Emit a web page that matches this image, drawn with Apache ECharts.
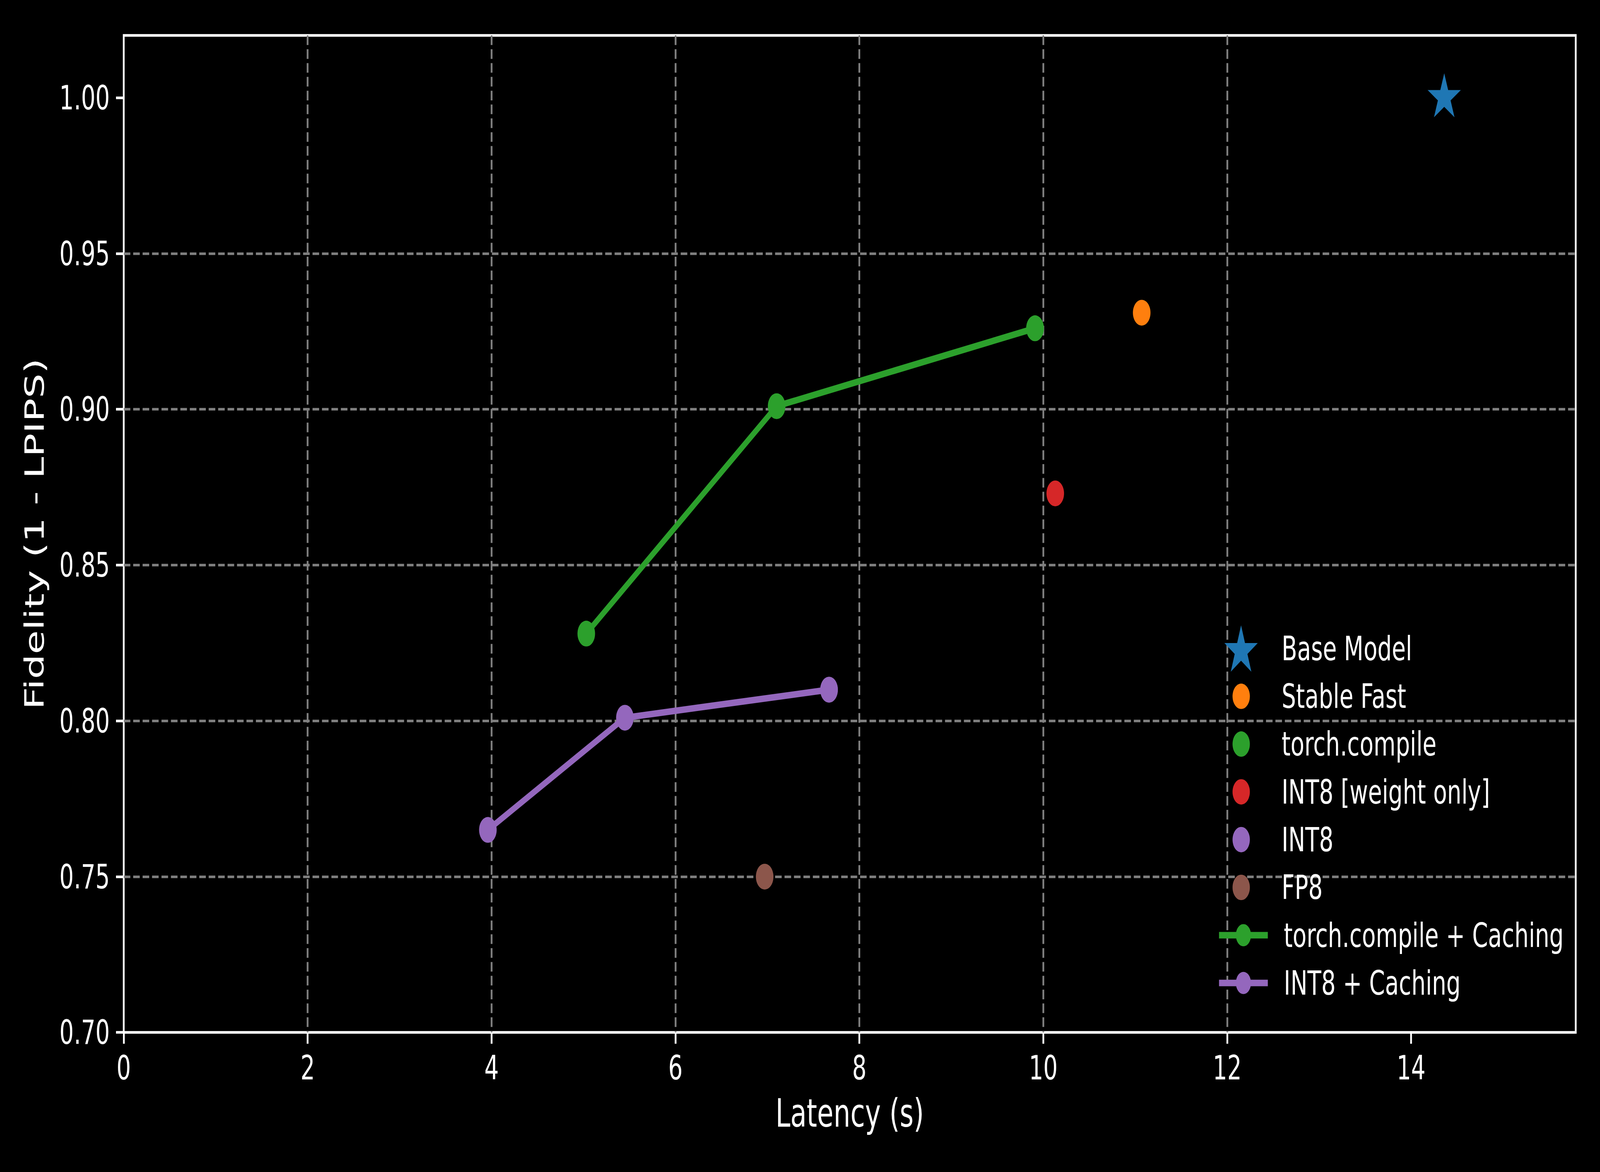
<!DOCTYPE html>
<html>
<head>
<meta charset="utf-8">
<script src="https://cdn.jsdelivr.net/npm/echarts@6/dist/echarts.min.js"></script>
<style>
html,body{margin:0;padding:0;background:#000;overflow:hidden;}
#chart{width:6000px;height:3000px;transform-origin:0 0;}
</style>
</head>
<body>
<div id="chart"></div>
<script>
// ---- data ----
const baseModel = [[14.36, 1.000]];
const stableFast = [[11.07, 0.931]];
const torchCompile = [[9.91, 0.926]];
const int8WeightOnly = [[10.13, 0.873]];
const int8 = [[7.67, 0.810]];
const fp8 = [[6.97, 0.750]];
const torchCompileCaching = [[5.03, 0.828], [7.10, 0.901], [9.91, 0.926]];
const int8Caching = [[3.96, 0.765], [5.45, 0.801], [7.67, 0.810]];

const xTicks = [0, 2, 4, 6, 8, 10, 12, 14];
const yTicks = [0.70, 0.75, 0.80, 0.85, 0.90, 0.95, 1.00];
const xRange = [0, 15.79];
const yRange = [0.70, 1.02];

const names = ['Base Model', 'Stable Fast', 'torch.compile', 'INT8 [weight only]', 'INT8', 'FP8',
  'torch.compile + Caching', 'INT8 + Caching'];
const colors = ['#1f77b4', '#ff7f0e', '#2ca02c', '#d62728', '#9467bd', '#8c564b'];

// fit the 6000x3000 drawing into whatever viewport the browser really has
const el = document.getElementById('chart');
const sx = (window.innerWidth || 6000) / 6000, sy = (window.innerHeight || 3000) / 3000;
el.style.transform = 'scale(' + sx + ',' + sy + ')';

const STAR = 'path://M0,-1000L224.5,-309L951.1,-309L363.3,118L587.8,809L0,382L-587.8,809L-363.3,118L-951.1,-309L-224.5,-309Z';
const FONT = 'DejaVu Sans';
const LW = 16.7;
const chart = echarts.init(el, null, {renderer: 'svg', width: 6000, height: 3000});

function scatter(name, data, color) {
  return {
    name: name, type: 'scatter', data: data, z: 2,
    symbol: 'circle', symbolSize: 66,
    itemStyle: {color: color, opacity: 1},
    emphasis: {disabled: true}
  };
}
function line(name, data, color) {
  return {
    name: name, type: 'line', data: data, z: 3,
    symbol: 'circle', symbolSize: 66, showSymbol: true,
    lineStyle: {color: color, width: LW},
    itemStyle: {color: color, opacity: 1},
    emphasis: {disabled: true}
  };
}

const legendText = (pad) => ({color: '#fff', fontSize: 85, fontFamily: FONT, padding: [0, 0, 0, pad]});
const gridLine = {color: '#808080', width: 6.7, type: [24.7, 10.7]};

const option = {
  backgroundColor: '#000',
  animation: false,
  textStyle: {fontFamily: FONT},
  grid: {
    left: 464, top: 90.6, right: 91, bottom: 357.3,
    show: true, borderColor: '#fff', borderWidth: 6.7, backgroundColor: 'transparent'
  },
  xAxis: {
    type: 'value', min: xRange[0], max: xRange[1], interval: 2,
    name: 'Latency (s)', nameLocation: 'middle', nameGap: 157,
    nameTextStyle: {color: '#fff', fontSize: 100, fontFamily: FONT, lineHeight: 100},
    axisLine: {show: false},
    axisTick: {show: true, inside: false, length: 29, customValues: xTicks, lineStyle: {color: '#fff', width: 6.7}},
    axisLabel: {color: '#fff', fontSize: 85, fontFamily: FONT, margin: 48, customValues: xTicks, lineHeight: 85,
      formatter: v => String(v)},
    splitLine: {show: true, showMinLine: false, showMaxLine: false, lineStyle: gridLine}
  },
  yAxis: {
    type: 'value', min: yRange[0], max: yRange[1], interval: 0.05,
    name: 'Fidelity (1 - LPIPS)', nameLocation: 'middle', nameGap: 284, nameRotate: 90,
    nameTextStyle: {color: '#fff', fontSize: 100, fontFamily: FONT, lineHeight: 100},
    axisLine: {show: false},
    axisTick: {show: true, inside: false, length: 29, customValues: yTicks, lineStyle: {color: '#fff', width: 6.7}},
    axisLabel: {color: '#fff', fontSize: 85, fontFamily: FONT, margin: 52, customValues: yTicks,
      formatter: v => Number(v).toFixed(2)},
    splitLine: {show: true, showMinLine: false, showMaxLine: false, lineStyle: gridLine}
  },
  legend: [
    {
      data: [names[0]], orient: 'vertical', left: 4591.5, top: 1600.5, padding: 0,
      itemWidth: 125, itemHeight: 119, selectedMode: false,
      textStyle: legendText(84.5)
    },
    {
      data: names.slice(1, 6), orient: 'vertical', left: 4622, top: 1739.8, padding: 0,
      itemWidth: 183, itemHeight: 65, itemGap: 37.3, selectedMode: false,
      textStyle: legendText(55)
    },
    {
      data: names.slice(6), orient: 'vertical', left: 4563, top: 2351.3, padding: 0,
      itemWidth: 183, itemHeight: 71, itemGap: 37.3, selectedMode: false,
      lineStyle: {width: LW},
      textStyle: legendText(55)
    }
  ],
  series: [
    {
      name: names[0], type: 'scatter', data: baseModel, z: 2,
      symbol: STAR, symbolSize: [124.6, 118.5], symbolKeepAspect: true, symbolOffset: [0, -6.3],
      itemStyle: {color: colors[0], opacity: 1}, emphasis: {disabled: true}
    },
    scatter(names[1], stableFast, colors[1]),
    scatter(names[2], torchCompile, colors[2]),
    scatter(names[3], int8WeightOnly, colors[3]),
    scatter(names[4], int8, colors[4]),
    scatter(names[5], fp8, colors[5]),
    line(names[6], torchCompileCaching, colors[2]),
    line(names[7], int8Caching, colors[4])
  ]
};
chart.setOption(option);
</script>
</body>
</html>
